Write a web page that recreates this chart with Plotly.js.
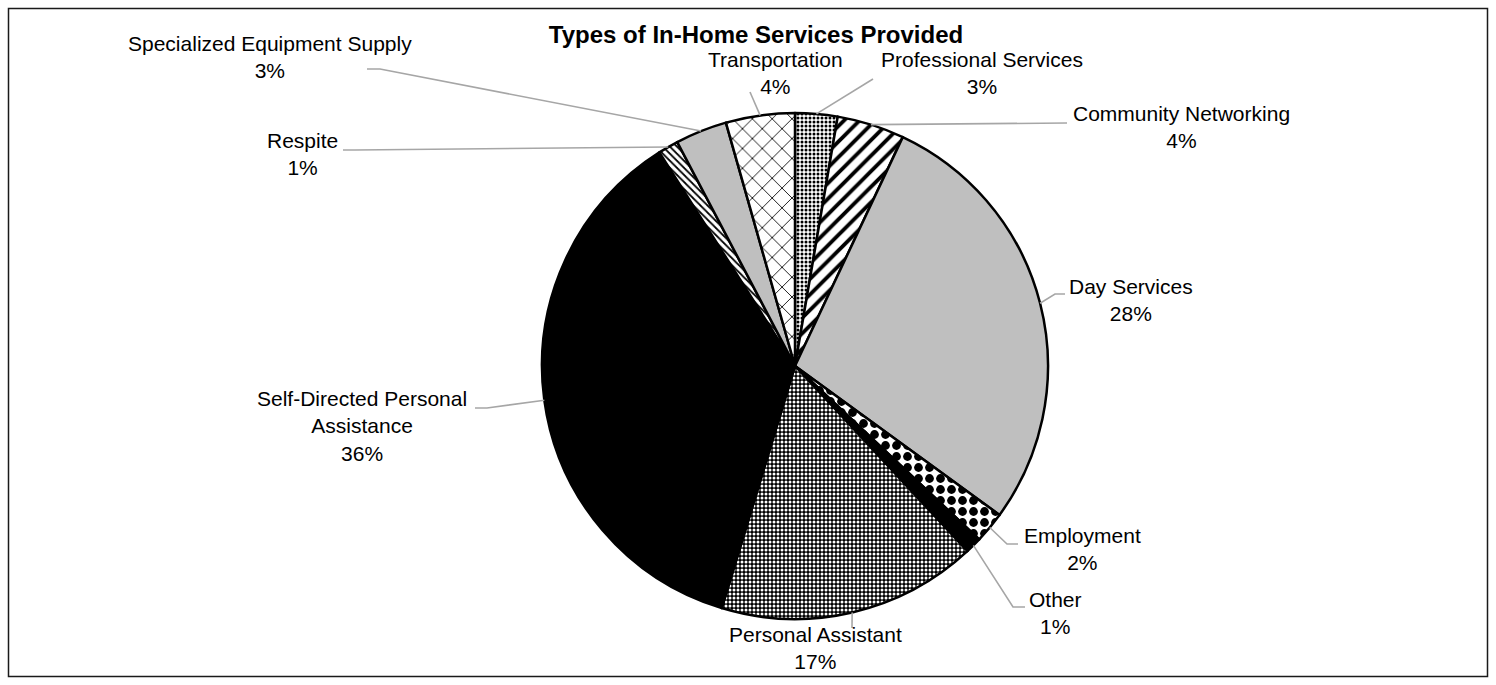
<!DOCTYPE html>
<html>
<head>
<meta charset="utf-8">
<script src="https://cdn.plot.ly/plotly-3.0.1.min.js"></script>
<style>html,body{margin:0;padding:0;background:#fff;}#chart{width:1496px;height:685px;}</style>
</head>
<body>
<div id="chart"></div>
<script>
// ---- data (clockwise from 12 o'clock) ----
const categories = ["Professional Services", "Community Networking", "Day Services", "Employment", "Other",
  "Personal Assistant", "Self-Directed Personal Assistance", "Respite", "Specialized Equipment Supply", "Transportation"];
const values = [2.7, 4.3, 28.0, 2.0, 1.05, 16.6, 36.3, 1.3, 3.3, 4.4];
const chartTitle = "Types of In-Home Services Provided";

// ---- styles ----
const W = 1496, H = 685;
const CX = 795, CY = 366, R = 253;
const fillColors = ["#ffffff", "#ffffff", "#bfbfbf", "#ffffff", "#000000", "#000000", "#000000", "#ffffff", "#bfbfbf", "#ffffff"];
const patShapes = [".", "/", "", ".", "", ".", "", "\\", "", "x"];
const patFg = ["#000", "#000", "#000", "#000", "#000", "#fff", "#000", "#000", "#000", "#000"];
const patSizes = [4, 11, 8, 11, 8, 4, 8, 5, 8, 14];
const patSolid = [0.45, 0.35, 0.3, 0.5, 0.3, 0.45, 0.3, 0.35, 0.3, 0.12];
// label placement: text centre (px), and leader start / elbow points (px)
const labelPos = [
  {x: 982, y: 73.5, pts: [[873, 79]]},
  {x: 1181, y: 126.5, pts: [[1067, 123]]},
  {x: 1131, y: 300, pts: [[1065, 294], [1055, 294]]},
  {x: 1082, y: 549, pts: [[1018, 544], [1007, 544]]},
  {x: 1055, y: 613, pts: [[1025, 607], [1013, 607]]},
  {x: 815, y: 648, pts: [[852, 628]]},
  {x: 362, y: 426, pts: [[475, 408], [487, 408]]},
  {x: 302, y: 154, pts: [[343, 150], [355, 150]]},
  {x: 270, y: 56.5, pts: [[367, 69], [380, 69]]},
  {x: 775, y: 73.5, pts: [[750, 92]]}
];
const displayNames = {"Self-Directed Personal Assistance": "Self-Directed Personal<br>Assistance"};

const FONT = "Arial, 'Liberation Sans', sans-serif";
const px = x => x / W, py = y => 1 - y / H;
const total = values.reduce((a, b) => a + b, 0);

const annotations = [], shapes = [];
let cum = 0;
values.forEach((v, i) => {
  const th = 2 * Math.PI * (cum + v / 2) / total;
  cum += v;
  const ex = CX + R * Math.sin(th), ey = CY - R * Math.cos(th);
  const lp = labelPos[i];
  const pct = Math.round(v / total * 100) + "%";
  const name = displayNames[categories[i]] || categories[i];
  annotations.push({
    xref: "paper", yref: "paper", x: px(lp.x), y: py(lp.y), xanchor: "center", yanchor: "middle",
    text: name + "<br>" + pct, showarrow: false, align: "center",
    font: {family: FONT, size: 21, color: "#000"}
  });
  const pts = lp.pts.concat([[ex, ey]]);
  const path = pts.map((p, k) => (k ? "L" : "M") + px(p[0]).toFixed(5) + "," + py(p[1]).toFixed(5)).join(" ");
  shapes.push({type: "path", xref: "paper", yref: "paper", path: path, line: {color: "#a6a6a6", width: 1.6}});
});

// outer frame
shapes.push({type: "rect", xref: "paper", yref: "paper", x0: px(8.5), x1: px(1487.5), y0: py(676.5), y1: py(8.5),
  line: {color: "#1a1a1a", width: 1.5}, layer: "below"});

const trace = {
  type: "pie",
  labels: categories,
  values: values,
  sort: false,
  direction: "clockwise",
  rotation: 0,
  textinfo: "none",
  hoverinfo: "label+percent",
  domain: {x: [px(CX - R), px(CX + R)], y: [py(CY + R), py(CY - R)]},
  marker: {
    colors: fillColors,
    line: {color: "#000", width: 2.5},
    pattern: {shape: patShapes, fgcolor: patFg, bgcolor: fillColors, size: patSizes, solidity: patSolid, fillmode: "replace"}
  },
  showlegend: false
};

const layout = {
  width: W, height: H,
  margin: {l: 0, r: 0, t: 0, b: 0},
  paper_bgcolor: "#fff",
  title: {text: "<b>" + chartTitle + "</b>", x: px(756), xanchor: "center", y: py(35), yanchor: "middle",
    font: {family: FONT, size: 24, color: "#000"}},
  annotations: annotations,
  shapes: shapes,
  showlegend: false
};

Plotly.newPlot("chart", [trace], layout, {displayModeBar: false, staticPlot: true});
</script>
</body>
</html>
